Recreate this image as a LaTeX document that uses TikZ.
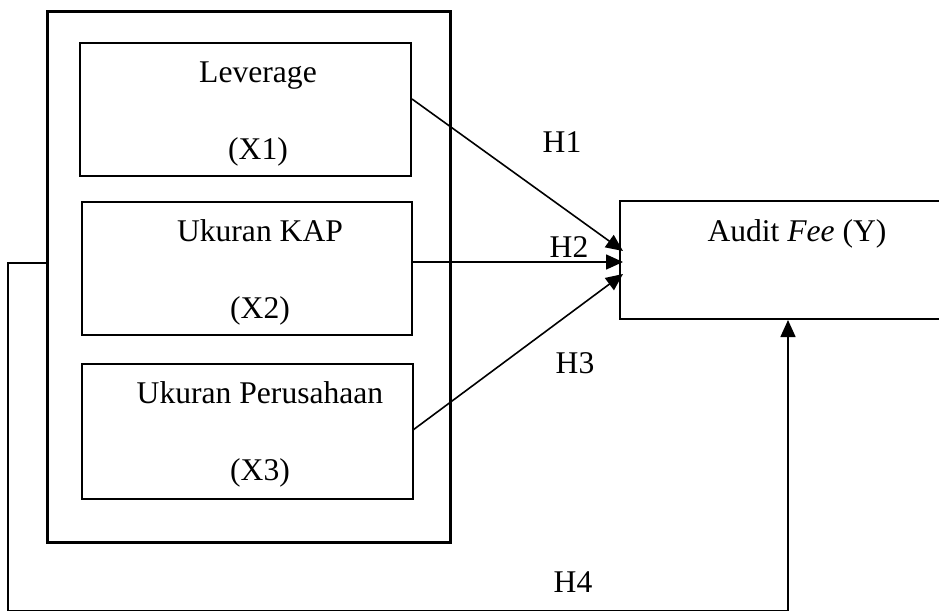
\documentclass[tikz,border=0pt]{standalone}
\usepackage{fontspec}
\setmainfont{Liberation Serif}
\usetikzlibrary{arrows.meta}
\begin{document}
\begin{tikzpicture}[x=1pt,y=-1pt,
  box/.style={draw,line width=1.8pt,inner sep=0pt,anchor=north west},
  outerbox/.style={draw,line width=2.6pt,inner sep=0pt,anchor=north west},
  lbl/.style={anchor=base,inner sep=0pt,font=\fontsize{31.6}{38}\selectfont},
  conn/.style={line width=1.6pt,-{Triangle[length=17pt,width=15pt]}},
  plain/.style={line width=1.6pt}]
\useasboundingbox (0,0) rectangle (939,611);
\clip (0,0) rectangle (939,611);
% boxes
\node[outerbox,minimum width=403pt,minimum height=531pt] (outer) at (46,10) {};
\node[box,minimum width=331pt,minimum height=133pt] (lev) at (79,42) {};
\node[box,minimum width=330pt,minimum height=133pt] (kap) at (81,201) {};
\node[box,minimum width=331pt,minimum height=135pt] (per) at (81,363) {};
\node[box,minimum width=330pt,minimum height=118pt] (aud) at (619,200) {};
% texts
\node[lbl] (t1) at (258,82) {Leverage};
\node[lbl] (t1b) at (258,159) {(X1)};
\node[lbl] (t2) at (260,241) {Ukuran KAP};
\node[lbl] (t2b) at (260,318) {(X2)};
\node[lbl] (t3) at (260,403) {Ukuran Perusahaan};
\node[lbl] (t3b) at (260,480) {(X3)};
\node[lbl] (ty) at (797,241) {Audit \textit{Fee} (Y)};
\node[lbl] (h1) at (562,152) {H1};
\node[lbl] (h2) at (569,257) {H2};
\node[lbl] (h3) at (575,373) {H3};
\node[lbl] (h4) at (573,592) {H4};
% connector points
\coordinate (s1) at (412,99);
\coordinate (e1) at (623,251);
\coordinate (s2) at (412,262);
\coordinate (e2) at (623,262);
\coordinate (s3) at (413,430);
\coordinate (e3) at (623,274);
\coordinate (f0) at (47,263);
\coordinate (f1) at (8,263);
\coordinate (f2) at (8,610.3);
\coordinate (f3) at (788,610.3);
\coordinate (f4) at (788,320);
% connectors
\draw[conn] (s1) -- (e1);
\draw[conn] (s2) -- (e2);
\draw[conn] (s3) -- (e3);
\draw[conn] (f0) -- (f1) -- (f2) -- (f3) -- (f4);
\end{tikzpicture}
\end{document}
